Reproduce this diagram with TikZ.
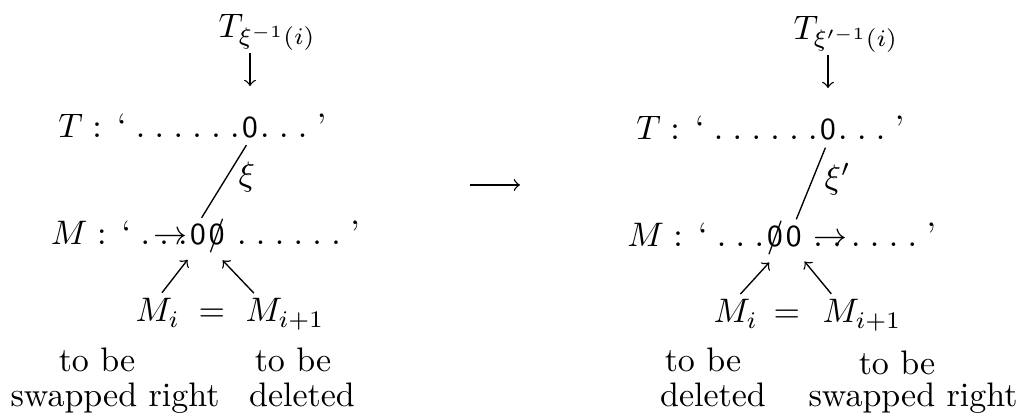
\documentclass[tikz,border=0pt]{standalone}
\usepackage{amsmath, amssymb}
\usepackage{mathtools}
\usetikzlibrary{positioning}
\newcommand{\zro}{{\small\sffamily 0}}
\newcommand{\slz}{\ooalign{\hfil\zro\hfil\cr\hfil/\hfil\cr}}
\tikzset{
    txt/.style={inner sep=0pt},
    ptr/.style={->, shorten <=2pt, shorten >=5pt},
}

\begin{document}
\begin{tikzpicture}[x=1.034cm, y=1.034cm]
        \useasboundingbox (0,0) rectangle (10.28,4.20);
        % 左側：入れ替え前
        \node[txt, anchor=base west] (ttopL) at (2.18, 3.82) {$T_{\xi^{-1}(i)}$};
        \node[txt, anchor=base] (tzeroL) at (2.50, 2.82) {\zro};
        \node[txt, base left=0.3pt of tzeroL] (tpreL) {$T : \,\text{`}\;.\;.\;.\;.\;.\;.$};
        \node[txt, base right=0.3pt of tzeroL] (tsufL) {$.\;.\;.\;\text{'}$};
        \node[txt, anchor=base] (mzeroL) at (1.98, 1.75) {\zro};
        \node[txt, base right=0.3pt of mzeroL] (mslashL) {\slz};
        \node[txt, base left=0.3pt of mzeroL] (mpreL) {$M : \,\text{`}\;.\;.\;.\mathllap{\to}$};
        \node[txt, base right=0.3pt of mslashL] (msufL) {$\;.\;.\;.\;.\;.\;.\;\text{'}$};
        \draw[->, shorten <=0.5pt, shorten >=9pt] (ttopL.south -| tzeroL.north) -- (tzeroL.north);
        \draw[shorten <=2pt, shorten >=2pt] (tzeroL.south) -- (mzeroL.north) node[pos=.45, right] {$\xi$};
        % M_i = M_{i+1}
        \node[txt, anchor=base west] (miL) at (1.35, 0.98) {$M_i$};
        \node[txt, anchor=base west] (eqL) at (1.98, 0.98) {$=$};
        \node[txt, anchor=base west] (mipL) at (2.45, 0.98) {$M_{i+1}$};
        \draw[ptr] (miL.north) -- (mzeroL.south);
        \draw[ptr, shorten >=2.5pt] ([xshift=4pt]mipL.north west) -- (mslashL.south);
        \node[txt, anchor=base] (toL1) at (0.97, 0.48) {to be};
        \node[txt, anchor=base] (swL) at (1.15, 0.13) {swapped right};
        \node[txt, anchor=base] (toL2) at (2.93, 0.48) {to be};
        \node[txt, anchor=base] (delL) at (3.02, 0.13) {deleted};
        % 中央の矢印
        \coordinate (gapL) at (4.70, 2.35);
        \coordinate (gapR) at (5.20, 2.35);
        \draw[->] (gapL) -- (gapR);
        % 右側：入れ替え後
        \node[txt, anchor=base west] (ttopR) at (7.93, 3.80) {$T_{\xi^{\prime-1}(i)}$};
        \node[txt, anchor=base] (tzeroR) at (8.28, 2.80) {\zro};
        \node[txt, base left=0.3pt of tzeroR] (tpreR) {$T : \,\text{`}\;.\;.\;.\;.\;.\;.$};
        \node[txt, base right=0.3pt of tzeroR] (tsufR) {$.\;.\;.\;\text{'}$};
        \node[txt, anchor=base] (mslashR) at (7.75, 1.73) {\slz};
        \node[txt, base right=0.3pt of mslashR] (mzeroR) {\zro};
        \node[txt, base left=0.3pt of mslashR] (mpreR) {$M : \,\text{`}\;.\;.\;.$};
        \node[txt, base right=0.3pt of mzeroR] (msufR) {$\;\mathrlap{\to}.\;.\;.\;.\;.\;.\;\text{'}$};
        \draw[->, shorten <=0.5pt, shorten >=9pt] (ttopR.south -| tzeroR.north) -- (tzeroR.north);
        \draw[shorten <=2pt, shorten >=2pt] (tzeroR.south) -- (mzeroR.north) node[pos=.45, right] {$\xi'$};
        % M_i = M_{i+1}
        \node[txt, anchor=base west] (miR) at (7.13, 0.97) {$M_i$};
        \node[txt, anchor=base west] (eqR) at (7.73, 0.97) {$=$};
        \node[txt, anchor=base west] (mipR) at (8.22, 0.97) {$M_{i+1}$};
        \draw[ptr, shorten >=2.5pt] (miR.north) -- (mslashR.south);
        \draw[ptr] ([xshift=4pt]mipR.north west) -- (mzeroR.south);
        \node[txt, anchor=base] (toR1) at (7.03, 0.48) {to be};
        \node[txt, anchor=base] (delR) at (7.13, 0.13) {deleted};
        \node[txt, anchor=base] (toR2) at (8.97, 0.45) {to be};
        \node[txt, anchor=base] (swR) at (9.13, 0.13) {swapped right};
    \end{tikzpicture}
\end{document}
